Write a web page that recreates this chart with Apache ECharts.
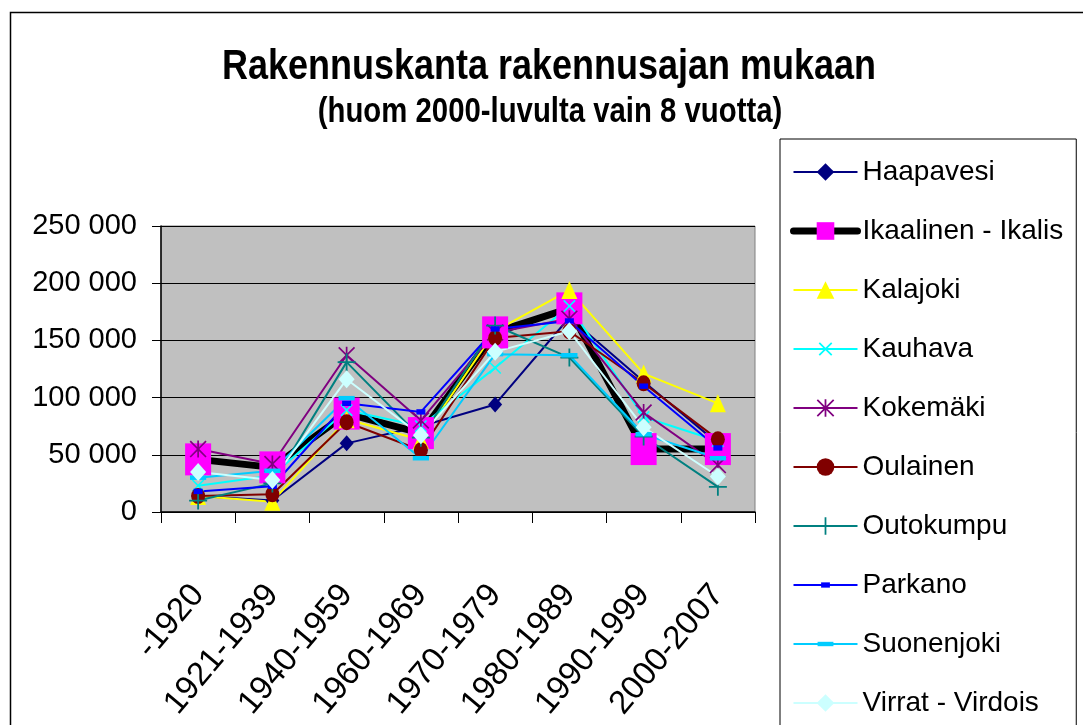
<!DOCTYPE html>
<html>
<head>
<meta charset="utf-8">
<script src="https://cdn.jsdelivr.net/npm/echarts@6/dist/echarts.min.js"></script>
<style>
html, body { margin: 0; padding: 0; background: #ffffff; }
#rakennusChart { width: 1083px; height: 725px; }
</style>
</head>
<body>
<div id="rakennusChart"></div>
<script>
// kategoriat ja arvot (luettu kuvasta)
const categories = ["-1920", "1921-1939", "1940-1959", "1960-1969", "1970-1979", "1980-1989", "1990-1999", "2000-2007"]
const yTicks = [0, 50000, 100000, 150000, 200000, 250000]

const haapavesi = [14000, 10000, 60000, 75000, 94000, 170000, 114000, 60000]
const ikaalinen = [46000, 39000, 86000, 69000, 157000, 178000, 55000, 55000]
const kalajoki = [14000, 9000, 81000, 63000, 158000, 194000, 121000, 95000]
const kauhava = [23000, 32000, 89000, 75000, 126000, 180000, 83000, 62000]
const kokemaki = [55000, 42000, 137000, 80000, 157000, 169000, 87000, 41000]
const oulainen = [14000, 15500, 78500, 54000, 152000, 158000, 112500, 63500]
const outokumpu = [10000, 25000, 131000, 65000, 163000, 135000, 66000, 22000]
const parkano = [18000, 22500, 95000, 87500, 160000, 167000, 110000, 56000]
const suonenjoki = [30000, 36000, 99500, 47000, 138000, 137000, 68000, 47000]
const virrat = [35000, 28000, 116000, 67000, 140000, 158000, 74000, 31000]

const names = ["Haapavesi", "Ikaalinen - Ikalis", "Kalajoki", "Kauhava", "Kokemäki", "Oulainen", "Outokumpu", "Parkano", "Suonenjoki", "Virrat - Virdois"]
const titleText = "Rakennuskanta rakennusajan mukaan"
const subText = "(huom 2000-luvulta vain 8 vuotta)"

// merkkien muodot
const plusPath = "path://M9,0h2v9h9v2h-9v9h-2v-9h-9v-2h9z"
const starPath = "path://M0,1.4L1.4,0L10,8.6L18.6,0L20,1.4L11.4,10L20,18.6L18.6,20L10,11.4L1.4,20L0,18.6L8.6,10Z M9,0h2v20h-2z"
const shortDash = "path://M0,0M20,20M5,7h10v6h-10z"
const longDash = "path://M0,0M20,20M1,7.5h18v5h-18z"

const font = "'Liberation Sans', Arial, sans-serif"

function line(name, data, color, symbol, size, width, extra) {
	return Object.assign({
		name: name,
		type: "line",
		data: data,
		symbol: symbol,
		symbolSize: size,
		showSymbol: true,
		animation: false,
		lineStyle: { color: color, width: width },
		itemStyle: { color: color, borderWidth: 0 },
		emphasis: { disabled: true },
	}, extra || {})
}

let myCharts = echarts.init(document.getElementById("rakennusChart"))
let option = {
	backgroundColor: "#ffffff",
	animation: false,
	graphic: [
		{
			type: "rect",
			left: 8,
			top: 10,
			shape: { width: 1100, height: 800 },
			style: { fill: "none", stroke: "#000000", lineWidth: 1.5 },
			silent: true,
			z: -10,
		},
		{
			type: "text",
			x: 549,
			y: 46,
			scaleX: 0.837,
			style: {
				text: titleText,
				font: "bold 43px " + font,
				fill: "#000000",
				textAlign: "center",
				textVerticalAlign: "top",
			},
		},
		{
			type: "text",
			x: 550,
			y: 95,
			scaleX: 0.838,
			style: {
				text: subText,
				font: "bold 35px " + font,
				fill: "#000000",
				textAlign: "center",
				textVerticalAlign: "top",
			},
		},
	],
	legend: {
		orient: "vertical",
		left: 780,
		top: 139,
		height: 700,
		padding: [19, 13, 20, 10],
		borderColor: "#000000",
		borderWidth: 1,
		itemWidth: 64,
		itemHeight: 22,
		itemGap: 31,
		data: names.map((n, i) => (i === 1 ? { name: n, lineStyle: { width: 7, cap: "round" } } : { name: n })),
		selectedMode: false,
		textStyle: { fontFamily: font, fontSize: 28, color: "#000000", lineHeight: 28 },
	},
	grid: {
		left: 161,
		top: 226,
		width: 594,
		height: 286,
		show: true,
		backgroundColor: "#c0c0c0",
		borderColor: "#808080",
		borderWidth: 1,
	},
	xAxis: {
		type: "category",
		data: categories,
		boundaryGap: true,
		axisLine: { show: true, lineStyle: { color: "#000000", width: 1.5 } },
		axisTick: { show: true, length: 11, alignWithLabel: false, lineStyle: { color: "#000000" } },
		axisLabel: {
			interval: 0,
			rotate: 50,
			margin: 77,
			fontFamily: font,
			fontSize: 33,
			color: "#000000",
		},
		splitLine: { show: false },
	},
	yAxis: {
		type: "value",
		min: yTicks[0],
		max: yTicks[yTicks.length - 1],
		interval: yTicks[1] - yTicks[0],
		axisLine: { show: true, lineStyle: { color: "#000000", width: 1.5 } },
		axisTick: { show: true, length: 9, lineStyle: { color: "#000000" } },
		axisLabel: {
			margin: 24,
			fontFamily: font,
			fontSize: 29,
			color: "#000000",
			formatter: function (v) {
				return String(v).replace(/\B(?=(\d{3})+(?!\d))/g, " ")
			},
		},
		splitLine: { show: true, lineStyle: { color: "#000000", width: 1 } },
	},
	series: [
		line(names[0], haapavesi, "#000080", "diamond", [14, 16], 2),
		line(names[1], ikaalinen, "#000000", "rect", [26, 32], 7, {
			itemStyle: { color: "#ff00ff", borderWidth: 0 },
		}),
		line(names[2], kalajoki, "#ffff00", "triangle", [16, 18], 2),
		line(names[3], kauhava, "#00ffff", plusPath, 16, 2, { symbolRotate: 45 }),
		line(names[4], kokemaki, "#800080", starPath, 17, 2),
		line(names[5], oulainen, "#800000", "circle", [14, 16], 2),
		line(names[6], outokumpu, "#008080", plusPath, 18, 2),
		line(names[7], parkano, "#0000ff", shortDash, 18, 2),
		line(names[8], suonenjoki, "#00ccff", longDash, 18, 2),
		line(names[9], virrat, "#ccffff", "diamond", [16, 18], 2),
	],
}
myCharts.setOption(option)
</script>
</body>
</html>
